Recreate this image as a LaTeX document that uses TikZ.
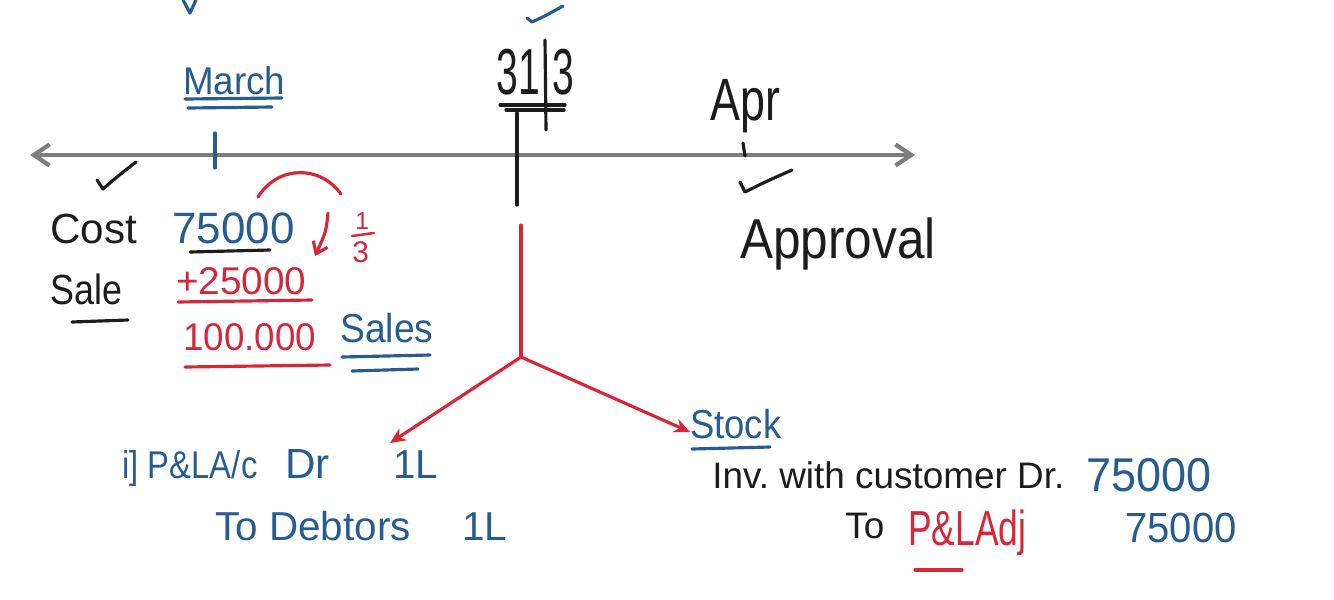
\documentclass[tikz,border=0pt]{standalone}
\usepackage{fontspec}
\setmainfont{Liberation Sans}
\usetikzlibrary{arrows.meta}
\definecolor{inkblue}{RGB}{38,92,145}
\definecolor{inkred}{RGB}{214,38,58}
\definecolor{inkblack}{RGB}{28,28,28}
\definecolor{axisgray}{RGB}{125,125,125}
\newcommand{\fs}[1]{\fontsize{#1}{#1}\selectfont}
% narrow, tall lettering for the larger handwritten words
\newcommand{\narrow}[2]{\scalebox{#1}[1]{#2}}
\frenchspacing
\begin{document}
\begin{tikzpicture}[x=0.02cm,y=-0.02cm,
  txt/.style={inner sep=0pt, anchor=base west},
  pen/.style={line width=1.8pt, line cap=round, line join=round},
  redarrow/.style={pen, inkred, -{Stealth[length=9pt,width=8pt]}}]
\useasboundingbox (0,0) rectangle (1334,599);

% time line
\coordinate (axL) at (30,155);
\coordinate (axR) at (915,155);
\draw[axisgray, line width=2.4pt, {Straight Barb[length=9pt,width=12pt]}-{Straight Barb[length=9pt,width=12pt]}] (axL) -- (axR);

% ticks on the time line
\draw[pen, inkblue] (215,133) -- (215,168);
\draw[pen, inkblack] (517,113) -- (517,205);
\draw[pen, inkblack] (743,143) -- (745,156);

% check marks
\draw[pen, inkblue] (183,0) -- (190,13) -- (196,0);
\draw[pen, inkblue] (527,18) -- (532,22) .. controls (545,16) .. (563,6);
\draw[pen, inkblack] (97,180) -- (103,189) .. controls (118,176) .. (136,162);
\draw[pen, inkblack] (740,182) -- (745,192) .. controls (765,182) .. (792,170);

% dates
\node[txt, inkblue, font=\fs{22}] (march) at (183,94) {\narrow{0.95}{March}};
\draw[pen, inkblue] (185,99) -- (282,98);
\draw[pen, inkblue] (188,108) -- (272,107);

\node[txt, inkblack, font=\fs{37}] (d31) at (496,94) {\narrow{0.6}{31}};
\node[txt, inkblack, font=\fs{37}] (d3) at (552,94) {\narrow{0.6}{3}};
\draw[pen, inkblack] (545,40) -- (546,130);
\draw[pen, inkblack] (500,105) -- (565,105);
\draw[pen, inkblack] (506,110) -- (564,110);

\node[txt, inkblack, font=\fs{34}] (apr) at (710,120) {\narrow{0.75}{Apr}};
\node[txt, inkblack, font=\fs{32}] (approval) at (740,258) {\narrow{0.88}{Approval}};

% cost and sale working
\node[txt, inkblack, font=\fs{24}] (cost) at (50,243) {Cost};
\node[txt, inkblack, font=\fs{24}] (sale) at (50,304) {\narrow{0.85}{Sale}};
\draw[pen, inkblack] (72,322) -- (128,320);

\node[txt, inkblue, font=\fs{25}] (v75) at (172,243) {75000};
\draw[pen, inkblack] (190,252) -- (270,250);
\draw[pen, inkred] (258,197) .. controls (278,165) and (320,165) .. (341,194);
\draw[pen, inkred, -{Straight Barb[length=6pt,width=9pt]}] (328,213) .. controls (326,232) .. (315,256);
\node[txt, inkred, font=\fs{14}] (one) at (355,229) {1};
\draw[pen, inkred, line width=1.4pt] (352,236) -- (374,233);
\node[txt, inkred, font=\fs{17}] (three) at (352,262) {3};

\node[txt, inkred, font=\fs{22}] (v25) at (176,294) {+25000};
\draw[pen, inkred] (178,302) -- (312,300);
\node[txt, inkred, font=\fs{22}] (v100) at (183,350) {\narrow{0.95}{100.000}};
\draw[pen, inkred] (185,367) -- (330,365);
\node[txt, inkblue, font=\fs{23}] (sales) at (340,342) {\narrow{0.92}{Sales}};
\draw[pen, inkblue] (342,357) -- (430,355);
\draw[pen, inkblue] (352,371) -- (418,369);

% split into the two entries
\coordinate (top) at (521,225);
\coordinate (fork) at (521,357);
\coordinate (leftTip) at (390,443);
\coordinate (rightTip) at (690,432);
\draw[pen, inkred] (top) -- (fork);
\draw[redarrow] (fork) -- (leftTip);
\draw[redarrow] (fork) -- (rightTip);

% first entry
\node[txt, inkblue, font=\fs{22}] (e1a) at (122,478) {\narrow{0.85}{i] P\&LA/c}};
\node[txt, inkblue, font=\fs{24}] (e1dr) at (285,478) {Dr};
\node[txt, inkblue, font=\fs{23}] (e1b) at (393,478) {1L};
\node[txt, inkblue, font=\fs{23}] (e1c) at (215,540) {To Debtors};
\node[txt, inkblue, font=\fs{23}] (e1d) at (462,540) {1L};

% stock entry
\node[txt, inkblue, font=\fs{23}] (stock) at (690,438) {\narrow{0.9}{Stock}};
\draw[pen, inkblue] (692,449) -- (770,447);
\node[txt, inkblack, font=\fs{21}] (inv) at (712,488) {Inv. with customer Dr.};
\node[txt, inkblue, font=\fs{27}] (amt1) at (1086,491) {\narrow{0.95}{75000}};
\node[txt, inkblack, font=\fs{21}] (to) at (845,538) {To};
\node[txt, inkred, font=\fs{28}] (pl) at (908,545) {\narrow{0.72}{P\&LAdj}};
\draw[pen, inkred] (915,570) -- (962,570);
\node[txt, inkblue, font=\fs{24}] (amt2) at (1125,542) {\narrow{0.95}{75000}};
\end{tikzpicture}
\end{document}
